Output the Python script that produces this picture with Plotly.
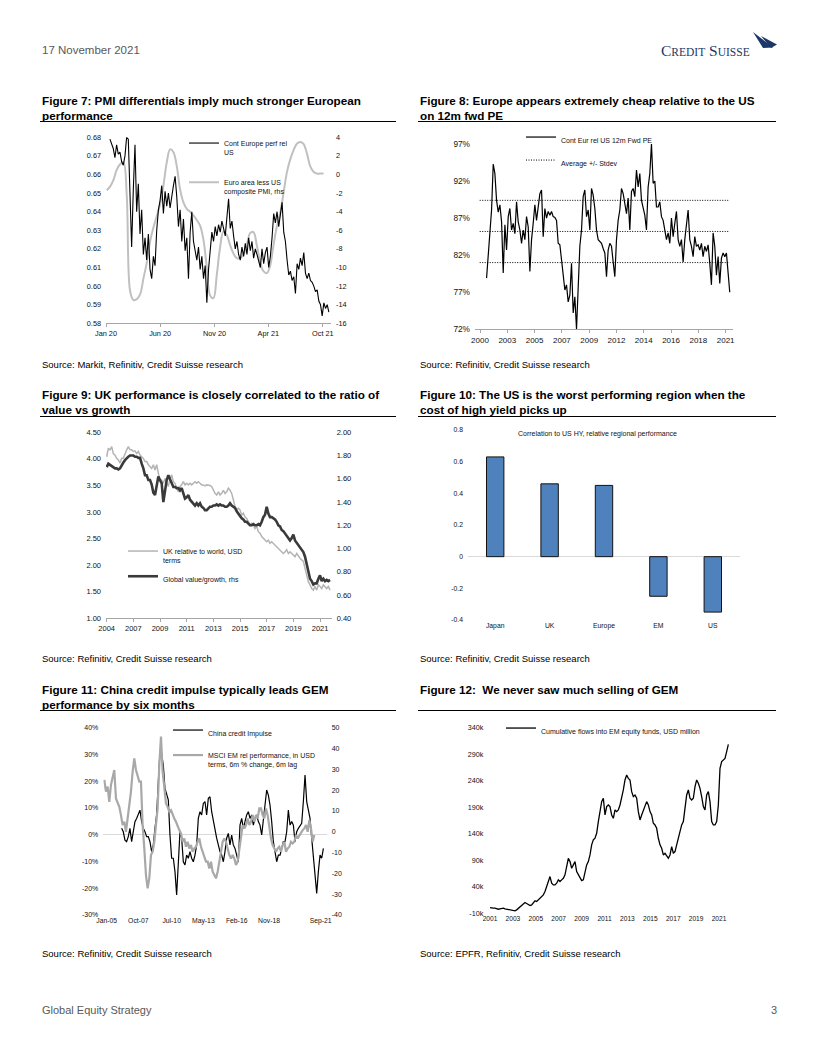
import pandas as pd
import plotly.graph_objects as go

W, H = 816, 1056


def fx(p):
    return p / W


def fy(p):
    return 1 - p / H


SANS = "Liberation Sans, Arial, sans-serif"
SERIF = "Liberation Serif, Times New Roman, serif"
TXT = "#111111"
AXG = "#a6a6a6"

# ---------------- Figure 7 data ----------------
F7_PERF_SPAN = ("2020-01-12", "2021-09-18")
F7_PERF = [0.679, 0.676, 0.674, 0.669, 0.676, 0.671, 0.672, 0.667, 0.665, 0.670,
           0.680, 0.679, 0.642, 0.621, 0.652, 0.676, 0.640, 0.655, 0.628, 0.641,
           0.617, 0.626, 0.614, 0.628, 0.609, 0.604, 0.616, 0.611, 0.630, 0.641,
           0.646, 0.654, 0.639, 0.651, 0.643, 0.650, 0.642, 0.649, 0.654, 0.659,
           0.648, 0.632, 0.641, 0.624, 0.636, 0.619, 0.626, 0.604, 0.629, 0.640,
           0.624, 0.619, 0.614, 0.621, 0.609, 0.616, 0.604, 0.611, 0.591, 0.609,
           0.621, 0.629, 0.624, 0.632, 0.627, 0.633, 0.629, 0.635, 0.631, 0.627,
           0.637, 0.647, 0.631, 0.635, 0.627, 0.620, 0.624, 0.617, 0.614, 0.621,
           0.616, 0.623, 0.617, 0.626, 0.619, 0.624, 0.615, 0.620, 0.617, 0.614,
           0.610, 0.620, 0.612, 0.618, 0.621, 0.610, 0.616, 0.626, 0.639, 0.634,
           0.640, 0.632, 0.638, 0.645, 0.629, 0.624, 0.614, 0.606, 0.608, 0.603,
           0.605, 0.596, 0.612, 0.609, 0.615, 0.611, 0.618, 0.607, 0.604, 0.607,
           0.603, 0.602, 0.600, 0.597, 0.598, 0.592, 0.590, 0.584, 0.591, 0.588,
           0.590, 0.586]
F7_PMI_SPAN = ("2020-01-03", "2021-09-03")
F7_PMI = [-1.7, -1.3, -0.6, 0.5, 1.1, 1.3, -2.2, -12.5, -13.5, -13.4,
          -12.9, -11.2, -9.5, -7.2, -5.7, -4.5, -3.2, -1.2, 1.3, 2.7,
          2.4, 0.9, -1.6, -3.0, -3.7, -4.0, -4.4, -4.9, -5.5, -7.0,
          -10.0, -13.0, -13.3, -10.8, -7.8, -6.1, -6.5, -7.6, -8.5, -9.0,
          -9.0, -8.6, -7.6, -6.3, -6.2, -7.6, -9.4, -10.4, -10.6, -9.8,
          -7.6, -5.6, -4.2, -2.0, 0.2, 1.6, 2.6, 3.3, 3.5, 3.3,
          2.3, 0.9, 0.3, 0.1, 0.1, 0.1]
F7_XTICKS = ["2020-01-01", "2020-06-01", "2020-11-01", "2021-04-01", "2021-09-01"]
F7_XLABELS = ["Jan 20", "Jun 20", "Nov 20", "Apr 21", "Oct 21"]
F7_LTICKS = [0.58, 0.59, 0.60, 0.61, 0.62, 0.63, 0.64, 0.65, 0.66, 0.67, 0.68]
F7_RTICKS = [-16, -14, -12, -10, -8, -6, -4, -2, 0, 2, 4]

# ---------------- Figure 8 data ----------------
F8_SPAN = ("2001-01-01", "2021-10-15")
F8_PE = [78.9, 81.8, 85.8, 88.1, 94.3, 93.0, 89.4, 87.8, 88.8, 86.5,
         79.6, 86.1, 82.7, 87.2, 88.3, 85.4, 86.3, 84.9, 89.2, 86.5,
         85.4, 83.6, 85.4, 84.1, 87.2, 85.8, 79.8, 84.1, 86.3, 88.8,
         86.7, 88.5, 90.3, 90.8, 84.5, 88.3, 87.0, 87.9, 87.4, 87.9,
         87.2, 87.1, 86.7, 83.6, 83.4, 81.4, 79.1, 77.3, 78.0, 75.7,
         76.6, 80.9, 74.2, 76.4, 72.0, 77.3, 83.2, 85.4, 89.9, 90.8,
         87.2, 88.1, 85.4, 91.0, 90.1, 88.3, 85.4, 84.1, 83.8, 83.6,
         82.9, 82.3, 79.1, 82.7, 83.6, 83.2, 81.1, 79.1, 84.1, 86.7,
         88.1, 91.0, 90.3, 89.0, 87.6, 89.7, 85.4, 90.6, 91.0, 89.9,
         93.5, 91.2, 93.0, 89.4, 88.5, 87.4, 85.4, 91.2, 93.0, 97.0,
         91.7, 92.0, 88.5, 88.5, 89.2, 87.2, 86.7, 85.4, 84.1, 85.0,
         83.6, 87.0, 84.5, 86.3, 87.9, 84.1, 83.2, 84.1, 81.1, 84.1,
         86.3, 88.1, 84.1, 83.2, 81.8, 84.5, 83.2, 83.4, 82.7, 83.6,
         81.8, 83.2, 82.5, 83.4, 80.9, 78.0, 85.0, 83.2, 79.3, 81.8,
         78.2, 81.6, 82.3, 81.8, 82.3, 80.0, 77.0]
F8_BAND_SPAN = ("2000-06-01", "2021-10-15")
F8_AVG = 85.2
F8_SD = 4.2
F8_XLABELS = ["2000", "2003", "2005", "2007", "2009", "2012", "2014", "2016", "2018", "2021"]
F8_YTICKS = [72, 77, 82, 87, 92, 97]

# ---------------- Figure 9 data ----------------
F9_SPAN = ("2004-01-01", "2021-11-01")
F9_UK = [4.04, 4.20, 4.17, 4.23, 4.10, 4.07, 4.01, 3.98, 3.92, 4.01,
         4.01, 4.10, 4.17, 4.23, 4.17, 4.17, 4.14, 4.15, 4.10, 4.14,
         4.07, 4.04, 4.01, 3.95, 3.95, 3.89, 3.85, 3.82, 3.89, 3.79,
         3.89, 3.70, 3.57, 3.60, 3.54, 3.63, 3.54, 3.48, 3.63, 3.70,
         3.57, 3.54, 3.45, 3.38, 3.48, 3.51, 3.57, 3.51, 3.54, 3.51,
         3.54, 3.51, 3.54, 3.57, 3.54, 3.57, 3.54, 3.51, 3.51, 3.49,
         3.51, 3.51, 3.50, 3.48, 3.41, 3.35, 3.32, 3.38, 3.32, 3.35,
         3.41, 3.35, 3.38, 3.45, 3.41, 3.35, 3.23, 3.10, 3.04, 3.07,
         3.04, 2.94, 2.98, 2.91, 2.88, 2.82, 2.76, 2.79, 2.76, 2.69,
         2.73, 2.63, 2.60, 2.54, 2.51, 2.47, 2.44, 2.47, 2.41, 2.44,
         2.41, 2.38, 2.35, 2.32, 2.29, 2.25, 2.22, 2.25, 2.29, 2.22,
         2.25, 2.22, 2.19, 2.16, 2.22, 2.16, 2.13, 2.10, 2.07, 1.94,
         1.82, 1.69, 1.63, 1.56, 1.53, 1.60, 1.53, 1.63, 1.60, 1.56,
         1.63, 1.60, 1.56, 1.60, 1.53]
F9_VG = [1.70, 1.73, 1.72, 1.71, 1.70, 1.69, 1.69, 1.68, 1.69, 1.72,
         1.74, 1.76, 1.78, 1.79, 1.80, 1.80, 1.80, 1.79, 1.79, 1.78,
         1.78, 1.73, 1.69, 1.63, 1.63, 1.59, 1.59, 1.55, 1.48, 1.46,
         1.55, 1.62, 1.59, 1.56, 1.40, 1.52, 1.59, 1.63, 1.60, 1.56,
         1.53, 1.53, 1.52, 1.52, 1.50, 1.52, 1.48, 1.43, 1.44, 1.46,
         1.42, 1.40, 1.39, 1.37, 1.39, 1.37, 1.39, 1.36, 1.35, 1.33,
         1.33, 1.35, 1.36, 1.36, 1.37, 1.37, 1.38, 1.37, 1.38, 1.37,
         1.37, 1.36, 1.36, 1.37, 1.39, 1.37, 1.36, 1.35, 1.32, 1.30,
         1.27, 1.26, 1.25, 1.23, 1.23, 1.21, 1.20, 1.20, 1.21, 1.20,
         1.20, 1.21, 1.20, 1.23, 1.27, 1.29, 1.36, 1.30, 1.27, 1.27,
         1.26, 1.25, 1.23, 1.20, 1.19, 1.16, 1.15, 1.13, 1.10, 1.09,
         1.07, 1.09, 1.12, 1.07, 1.05, 1.02, 1.00, 0.99, 0.97, 0.93,
         0.86, 0.80, 0.74, 0.72, 0.69, 0.70, 0.70, 0.74, 0.77, 0.72,
         0.74, 0.72, 0.73, 0.72, 0.73]
F9_XLABELS = ["2004", "2007", "2009", "2011", "2013", "2015", "2017", "2019", "2021"]
F9_LTICKS = [1.0, 1.5, 2.0, 2.5, 3.0, 3.5, 4.0, 4.5]
F9_RTICKS = [0.4, 0.6, 0.8, 1.0, 1.2, 1.4, 1.6, 1.8, 2.0]

# ---------------- Figure 10 data ----------------
F10_REGIONS = ["Japan", "UK", "Europe", "EM", "US"]
F10_CORR = [0.63, 0.46, 0.45, -0.25, -0.35]
F10_YTICKS = [-0.4, -0.2, 0, 0.2, 0.4, 0.6, 0.8]
F10_YLABELS = ["-0.4", "-0.2", "0", "0.2", "0.4", "0.6", "0.8"]

# ---------------- Figure 11 data ----------------
F11_CI_SPAN = ("2006-02-28", "2021-10-01")
F11_CI = [2.4, 1.1, -2.0, -2.6, -0.7, 2.4, -2.6, 0.5, 4.9, 6.1,
          7.4, 9.2, 4.9, 2.4, 1.1, -0.7, -0.7, -2.6, -6.3, -3.8,
          2.4, 7.4, 19.8, 31.0, 30.0, 26.1, 17.3, 15.1, 13.0, -0.1,
          -8.8, -8.8, -13.8, -22.5, -8.8, 1.1, -1.3, -10.1, -11.3, -7.6,
          -8.8, -6.3, -8.8, -10.1, -7.6, -3.8, 6.1, 8.6, 7.4, 11.7,
          12.4, 7.4, 13.6, 14.2, 8.6, 4.9, 2.4, -1.3, -3.8, -6.3,
          -7.6, -10.1, -6.3, -1.3, 0.5, -3.8, -0.1, -3.8, -5.1, -7.6,
          -10.1, 3.6, 6.1, 2.4, 4.9, 7.4, 8.6, 6.1, 7.4, 3.6,
          6.1, 7.4, 4.9, 3.6, -0.1, 6.1, 12.4, 16.7, 14.8, 11.1,
          4.9, -2.6, -6.3, -10.1, -7.6, -7.6, -5.1, -2.6, -2.6, 1.1,
          9.2, 3.6, 4.9, 3.6, -2.6, 1.1, 2.4, 3.6, 4.3, 12.4,
          22.3, 12.4, 9.2, 6.1, -1.3, -7.6, -13.8, -21.9, -13.8, -7.6,
          -8.8, -5.1]
F11_EM_SPAN = ("2004-10-27", "2021-01-19")
F11_EM = [24.9, 19.3, 21.7, 14.4, 22.5, 26.5, 29.7, 16.0, 14.4, 12.0,
          8.0, 3.2, 4.8, 0.0, 6.4, 12.8, 19.3, 28.9, 35.3, 29.7,
          27.3, 24.1, 24.1, 3.2, -8.0, -20.8, -27.2, -22.4, -11.2, -9.6,
          -4.8, 4.8, 11.2, 32.1, 45.7, 28.9, 19.3, 13.6, 12.0, 9.6,
          10.4, 8.0, 6.4, 4.8, 2.4, 0.8, -0.8, -4.8, -3.2, -7.2,
          -4.8, -8.0, -6.4, -9.6, -8.0, -7.2, -4.8, -3.2, -7.2, -9.6,
          -12.8, -14.4, -14.4, -17.6, -14.4, -19.2, -20.8, -22.4, -19.2, -14.4,
          -8.0, -4.8, -3.2, -4.8, -8.0, -11.2, -12.8, -11.2, -12.8, -16.0,
          -14.4, -8.0, -3.2, 3.2, 1.6, 3.2, 6.4, 3.2, 4.8, 8.0,
          4.8, 8.0, 6.4, 11.2, 11.2, 8.0, 6.4, 11.2, 8.0, 1.6,
          -3.2, -6.4, -8.0, -9.6, -8.0, -7.2, -9.6, -6.4, -4.8, -9.6,
          -8.0, -7.2, -4.8, -5.6, -4.8, -1.6, -3.2, -1.6, 0.0, 0.8,
          1.6, 3.2, 0.0, 5.6, 1.6, -4.8, -1.6]
F11_XLABELS = ["Jan-05", "Oct-07", "Jul-10", "May-13", "Feb-16", "Nov-18", "Sep-21"]
F11_LTICKS = [-30, -20, -10, 0, 10, 20, 30, 40]
F11_RTICKS = [-40, -30, -20, -10, 0, 10, 20, 30, 40, 50]

# ---------------- Figure 12 data ----------------
F12_SPAN = ("2001-01-01", "2021-10-25")
F12_FLOWS = [0.9, -0.4, -0.4, -0.4, -1.6, -2.3, -1.6, -0.4, -0.4, -1.6,
             -2.3, -3.5, -4.1, -4.1, -4.8, -5.4, -3.5, -0.4, 2.8, 5.9,
             9.0, 10.3, 8.4, 5.9, 4.6, 5.9, 9.0, 13.4, 12.2, 15.3,
             18.5, 21.6, 24.7, 31.0, 40.4, 49.9, 59.3, 46.7, 43.6, 43.6,
             46.7, 53.0, 49.9, 53.0, 56.1, 62.4, 81.3, 93.8, 87.5, 75.0,
             81.3, 87.5, 68.7, 62.4, 56.1, 51.7, 53.0, 65.6, 81.3, 87.5,
             100.1, 119.0, 128.4, 131.5, 140.9, 162.9, 181.7, 200.6, 206.9, 175.5,
             191.2, 194.3, 191.2, 175.5, 169.2, 184.9, 181.7, 184.9, 194.3, 206.9,
             222.6, 241.4, 250.8, 244.5, 241.4, 219.4, 210.0, 213.1, 206.9, 181.7,
             166.0, 175.5, 184.9, 194.3, 200.6, 194.3, 181.7, 175.5, 159.8, 156.6,
             150.3, 131.5, 119.0, 112.7, 100.1, 103.2, 97.0, 93.8, 100.1, 115.8,
             103.2, 106.4, 119.0, 131.5, 147.2, 156.6, 162.9, 188.0, 213.1, 222.6,
             206.9, 203.7, 206.9, 228.8, 241.4, 235.1, 225.7, 210.0, 191.2, 184.9,
             213.1, 219.4, 200.6, 162.9, 156.6, 156.6, 162.9, 194.3, 263.4, 276.0,
             279.1, 282.2, 294.8, 308.6]
F12_XLABELS = ["2001", "2003", "2005", "2007", "2009", "2011", "2013", "2015", "2017", "2019", "2021"]
F12_YTICKS = [-10, 40, 90, 140, 190, 240, 290, 340]


def span_dates(span, n):
    return pd.date_range(span[0], span[1], periods=n)


def offsets(base, days):
    b = pd.Timestamp(base)
    return [(b + pd.Timedelta(days=d)).strftime("%Y-%m-%d") for d in days]


fig = go.Figure()

# ---- Figure 7 traces (grey on base right axis, black on overlay left axis)
fig.add_trace(go.Scatter(
    x=span_dates(F7_PERF_SPAN, len(F7_PERF)), y=F7_PERF, mode="lines",
    name="Cont Europe perf rel<br>US", line=dict(color="#000000", width=1.1),
    xaxis="x", yaxis="y2", legend="legend", legendgroup="f7a"))
fig.add_trace(go.Scatter(
    x=span_dates(F7_PMI_SPAN, len(F7_PMI)), y=F7_PMI, mode="lines",
    name="Euro area less US<br>composite PMI, rhs",
    line=dict(color="#c0c0c0", width=2, shape="spline"),
    xaxis="x", yaxis="y", legend="legend", legendgroup="f7b"))

# ---- Figure 8 traces
fig.add_trace(go.Scatter(
    x=span_dates(F8_SPAN, len(F8_PE)), y=F8_PE, mode="lines",
    name="Cont Eur rel US 12m Fwd PE", line=dict(color="#000000", width=1.2),
    xaxis="x2", yaxis="y3", legend="legend2", legendgroup="f8a"))
for i, lvl in enumerate([F8_AVG + F8_SD, F8_AVG, F8_AVG - F8_SD]):
    fig.add_trace(go.Scatter(
        x=list(F8_BAND_SPAN), y=[lvl, lvl], mode="lines",
        name="Average +/- Stdev", showlegend=(i == 0),
        line=dict(color="#000000", width=1, dash="1px,1.5px"),
        xaxis="x2", yaxis="y3", legend="legend2", legendgroup="f8b"))

# ---- Figure 9 traces
fig.add_trace(go.Scatter(
    x=span_dates(F9_SPAN, len(F9_UK)), y=F9_UK, mode="lines",
    name="UK relative to world, USD<br>terms", line=dict(color="#b4b4b4", width=1.5),
    xaxis="x3", yaxis="y4", legend="legend3", legendgroup="f9a"))
fig.add_trace(go.Scatter(
    x=span_dates(F9_SPAN, len(F9_VG)), y=F9_VG, mode="lines",
    name="Global value/growth, rhs", line=dict(color="#3a3a3a", width=2.6),
    xaxis="x3", yaxis="y5", legend="legend3", legendgroup="f9b"))

# ---- Figure 10 bars
fig.add_trace(go.Bar(
    x=F10_REGIONS, y=F10_CORR, width=0.32, showlegend=False,
    name="Correlation to US HY, relative regional performance",
    marker=dict(color="#4f81bd", line=dict(color="#111111", width=1)),
    xaxis="x4", yaxis="y6"))

# ---- Figure 11 traces
fig.add_trace(go.Scatter(
    x=span_dates(F11_CI_SPAN, len(F11_CI)), y=F11_CI, mode="lines",
    name="China credit Impulse", line=dict(color="#000000", width=1.2),
    xaxis="x5", yaxis="y7", legend="legend4", legendgroup="f11a"))
fig.add_trace(go.Scatter(
    x=span_dates(F11_EM_SPAN, len(F11_EM)), y=F11_EM, mode="lines",
    name="MSCI EM rel performance, in USD<br>terms, 6m % change, 6m lag",
    line=dict(color="#a8a8a8", width=2.2),
    xaxis="x5", yaxis="y8", legend="legend4", legendgroup="f11b"))

# ---- Figure 12 trace
fig.add_trace(go.Scatter(
    x=span_dates(F12_SPAN, len(F12_FLOWS)), y=F12_FLOWS, mode="lines",
    name="Cumulative flows into EM equity funds, USD million",
    line=dict(color="#000000", width=1.3),
    xaxis="x6", yaxis="y9", legend="legend5"))


def tf(size):
    return dict(family=SANS, size=size, color=TXT)


def xdate(domain, anchor, rng, tickvals, ticktext, size, line=True):
    return dict(domain=domain, anchor=anchor, type="date", range=rng,
                tickmode="array", tickvals=tickvals, ticktext=ticktext,
                showgrid=False, zeroline=False, showline=line, linecolor=AXG,
                linewidth=1, ticks="outside" if line else "", ticklen=3,
                tickcolor=AXG, tickfont=tf(size), automargin=False)


def yax(domain, anchor, rng, tickvals, ticktext, size, side="left", overlaying=None, zero=False):
    d = dict(domain=domain, anchor=anchor, range=rng, side=side,
             tickmode="array", tickvals=tickvals, ticktext=ticktext,
             showgrid=False, showline=False, ticks="", tickfont=tf(size),
             ticklabelstandoff=4, zeroline=zero, zerolinecolor="#d9d9d9",
             zerolinewidth=1, automargin=False)
    if overlaying:
        d["overlaying"] = overlaying
        d.pop("domain")
    return d


LEG = dict(xanchor="left", yanchor="top", bgcolor="rgba(0,0,0,0)",
           font=dict(family=SANS, size=7, color=TXT), valign="top",
           traceorder="grouped", itemwidth=30)

fig.update_layout(
    width=W, height=H, autosize=False,
    margin=dict(l=0, r=0, t=0, b=0, pad=0, autoexpand=False),
    paper_bgcolor="white", plot_bgcolor="white",
    font=dict(family=SANS, color=TXT), showlegend=True,
    # Figure 7
    xaxis=xdate([fx(106), fx(331)], "y", ["2020-01-01", "2021-09-24"], F7_XTICKS, F7_XLABELS, 7.3),
    yaxis=yax([fy(323.3), fy(137.3)], "x", [-16, 4], F7_RTICKS,
              [str(v) for v in F7_RTICKS], 7.3, side="right"),
    yaxis2=yax(None, "x", [0.58, 0.68], F7_LTICKS,
               [f"{v:.2f}" for v in F7_LTICKS], 7.3, side="left", overlaying="y"),
    # Figure 8
    xaxis2=xdate([fx(475), fx(733)], "y3", ["2000-01-06", "2022-01-24"],
                 offsets("2000-06-10", [852 * i for i in range(len(F8_XLABELS))]), F8_XLABELS, 8),
    yaxis3=yax([fy(329.3), fy(144)], "x2", [72, 97], F8_YTICKS,
               [f"{v}%" for v in F8_YTICKS], 8.3),
    # Figure 9
    xaxis3=xdate([fx(106), fx(331.7)], "y4", ["2003-12-12", "2021-12-20"],
                 offsets("2004-01-01", [778 * i for i in range(len(F9_XLABELS))]), F9_XLABELS, 7.5),
    yaxis4=yax([fy(618.3), fy(432.3)], "x3", [1.0, 4.5], F9_LTICKS,
               [f"{v:.2f}" for v in F9_LTICKS], 7.5),
    yaxis5=yax(None, "x3", [0.4, 2.0], F9_RTICKS,
               [f"{v:.2f}" for v in F9_RTICKS], 7.5, side="right", overlaying="y4"),
    # Figure 10
    xaxis4=dict(domain=[fx(468), fx(740)], anchor="y6", type="category",
                showgrid=False, zeroline=False, showline=False, ticks="",
                tickfont=tf(6.8), automargin=False),
    yaxis6=yax([fy(620), fy(430)], "x4", [-0.4, 0.8], F10_YTICKS, F10_YLABELS, 6.8, zero=True),
    # Figure 11
    xaxis5=xdate([fx(103.3), fx(326.7)], "y7", ["2004-09-29", "2022-01-03"],
                 offsets("2005-01-01", [0, 894, 1835, 2729, 3670, 4583, 6041]),
                 F11_XLABELS, 6.8, line=False),
    yaxis7=yax([fy(915), fy(727.7)], "x5", [-30, 40], F11_LTICKS,
               [f"{v}%" for v in F11_LTICKS], 7, zero=True),
    yaxis8=yax(None, "x5", [-40, 50], F11_RTICKS,
               [str(v) for v in F11_RTICKS], 7, side="right", overlaying="y7"),
    # Figure 12
    xaxis6=xdate([fx(488.3), fx(730)], "y9", ["2000-11-08", "2021-12-17"],
                 [f"{y}-01-01" for y in F12_XLABELS], F12_XLABELS, 6.6, line=False),
    yaxis9=yax([fy(913.3), fy(727.7)], "x6", [-10, 340], F12_YTICKS,
               [f"{v}k" for v in F12_YTICKS], 7.2),
    legend=dict(LEG, x=fx(184), y=fy(132), tracegroupgap=18),
    legend2=dict(LEG, x=fx(521), y=fy(126), tracegroupgap=4),
    legend3=dict(LEG, x=fx(123), y=fy(540), tracegroupgap=4),
    legend4=dict(LEG, x=fx(168), y=fy(719), tracegroupgap=6),
    legend5=dict(LEG, x=fx(501), y=fy(717)),
)

ann = []


def text(x, y, s, size, color=TXT, family=SANS, xanchor="left", yanchor="middle"):
    ann.append(dict(x=fx(x), y=fy(y), xref="paper", yref="paper", text=s,
                    showarrow=False, xanchor=xanchor, yanchor=yanchor, align="left",
                    font=dict(family=family, size=size, color=color)))


# header / footer
text(40, 50, "17 November 2021", 11.5, color="#595959")
text(40, 1010, "Global Equity Strategy", 11, color="#595959")
text(779, 1010, "3", 11, color="#595959", xanchor="right")
text(659, 50, "C<span style='font-size:11.5px'>REDIT</span> S<span style='font-size:11.5px'>UISSE</span>",
     15.5, color="#1b3768", family=SERIF)

# figure titles
TITLES = [
    (40, 91.5, "<b>Figure 7: PMI differentials imply much stronger European<br>performance</b>"),
    (418, 91.5, "<b>Figure 8: Europe appears extremely cheap relative to the US<br>on 12m fwd PE</b>"),
    (40, 386.5, "<b>Figure 9: UK performance is closely correlated to the ratio of<br>value vs growth</b>"),
    (418, 386.5, "<b>Figure 10: The US is the worst performing region when the<br>cost of high yield picks up</b>"),
    (40, 680.5, "<b>Figure 11: China credit impulse typically leads GEM<br>performance by six months</b>"),
    (418, 680.5, "<b>Figure 12:  We never saw much selling of GEM</b>"),
]
for x, y, s in TITLES:
    text(x, y, s, 11.7, color="#000000", yanchor="top")

SOURCES = [
    (40, 364, "Source: Markit, Refinitiv, Credit Suisse research"),
    (418, 364, "Source: Refinitiv, Credit Suisse research"),
    (40, 658.5, "Source: Refinitiv, Credit Suisse research"),
    (418, 658.5, "Source: Refinitiv, Credit Suisse research"),
    (40, 953, "Source: Refinitiv, Credit Suisse research"),
    (418, 953, "Source: EPFR, Refinitiv, Credit Suisse research"),
]
for x, y, s in SOURCES:
    text(x, y, s, 9.5, color="#000000")

# inner caption of figure 10
text(597, 434.5, "Correlation to US HY, relative regional performance", 7,
     xanchor="center")

fig.update_layout(annotations=ann)

shapes = []
for yline in (121.5, 416.5, 710.5):
    for x0, x1 in ((40, 396), (418, 776)):
        shapes.append(dict(type="line", xref="paper", yref="paper",
                           x0=fx(x0), x1=fx(x1), y0=fy(yline), y1=fy(yline),
                           line=dict(color="#000000", width=1)))


def poly(points):
    p = " ".join(("M" if i == 0 else "L") + f" {fx(a):.5f},{fy(b):.5f}"
                 for i, (a, b) in enumerate(points))
    return p + " Z"


for pts in ([(753, 32), (773, 47.5), (763, 48)], [(761, 36), (777, 44.5), (771, 48)]):
    shapes.append(dict(type="path", xref="paper", yref="paper", path=poly(pts),
                       fillcolor="#1b3768", line=dict(width=0)))
fig.update_layout(shapes=shapes)

fig.write_html("out.html", config={"displayModeBar": False, "responsive": False},
               post_script="document.body.style.margin='0';document.body.style.padding='0';")
